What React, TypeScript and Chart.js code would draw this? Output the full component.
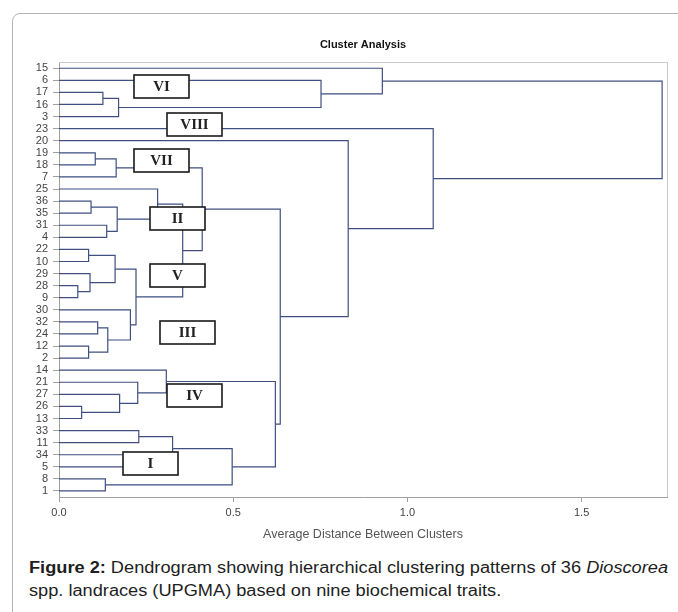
import React, { useEffect, useRef } from 'react';
import { Chart, registerables } from 'chart.js';
Chart.register(...registerables);

// Leaf order, top to bottom
const leafLabels = ['15','6','17','16','3','23','20','19','18','7','25','36','35','31','4','22','10','29','28','9','30','32','24','12','2','14','21','27','26','13','33','11','34','5','8','1'];

// Merges (UPGMA): left child, right child, joining distance. "cK" = result of merge K.
const mergeLeft =  ['17','c0','6','15','19','c4','36','31','c6','25','22','28','29','c10','32','12','c14','30','c13','c9','c5','26','27','21','14','33','34','c25','8','c27','c24','c20','20','23','c3'];
const mergeRight = ['16','3','c1','c2','18','7','35','4','c7','c8','10','9','c11','c12','24','2','c15','c16','c17','c18','c19','13','c21','c22','c23','11','5','c26','1','c28','c29','c30','c31','c32','c33'];
const mergeHeight = [0.126,0.171,0.752,0.928,0.104,0.164,0.092,0.137,0.167,0.283,0.085,0.054,0.089,0.161,0.111,0.085,0.140,0.205,0.221,0.355,0.411,0.065,0.174,0.226,0.308,0.229,0.26,0.326,0.133,0.497,0.621,0.635,0.830,1.074,1.731];

const xTickValues = [0, 0.5, 1.0, 1.5];

// Cluster labels (roman numerals)
const clusterNames = ['VI','VIII','VII','II','V','III','IV','I'];
// label anchor in data units (distance, leaf index)
const clusterAtX = [0.295, 0.389, 0.295, 0.34, 0.34, 0.369, 0.389, 0.264];
const clusterAtY = [1.55, 4.67, 7.61, 12.4, 17.19, 21.89, 27.13, 32.75];

const LINE = '#3e4f80';
const SANS = '"Liberation Sans", Arial, sans-serif';

function buildDatasets() {
  const pos: Record<string, { x: number; y: number }> = {};
  leafLabels.forEach((l, i) => (pos[l] = { x: 0, y: i }));
  const ds: any[] = [];
  mergeLeft.forEach((a, k) => {
    const A = pos[a];
    const B = pos[mergeRight[k]];
    const h = mergeHeight[k];
    ds.push({
      data: [
        { x: A.x, y: A.y },
        { x: h, y: A.y },
        { x: h, y: B.y },
        { x: B.x, y: B.y },
      ],
      showLine: true,
      borderColor: LINE,
      borderWidth: 1.2,
      pointRadius: 0,
      fill: false,
      tension: 0,
    });
    pos['c' + k] = { x: h, y: (A.y + B.y) / 2 };
  });
  return ds;
}

const decorPlugin = {
  id: 'decor',
  beforeDatasetsDraw(chart: any) {
    const { ctx, chartArea } = chart;
    ctx.save();
    ctx.strokeStyle = '#c9c9c9';
    ctx.lineWidth = 1;
    ctx.beginPath();
    ctx.moveTo(chartArea.left, Math.round(chartArea.top) + 0.5);
    ctx.lineTo(Math.round(chartArea.right) + 0.5, Math.round(chartArea.top) + 0.5);
    ctx.lineTo(Math.round(chartArea.right) + 0.5, chartArea.bottom);
    ctx.stroke();
    ctx.restore();
  },
  afterDatasetsDraw(chart: any) {
    const { ctx } = chart;
    const xs = chart.scales.x;
    const ys = chart.scales.y;
    ctx.save();
    clusterNames.forEach((name, i) => {
      const cx = xs.getPixelForValue(clusterAtX[i]);
      const cy = ys.getPixelForValue(clusterAtY[i]);
      const w = 55, h = 23;
      const x0 = Math.round(cx - w / 2), y0 = Math.round(cy - h / 2);
      ctx.fillStyle = '#ffffff';
      ctx.fillRect(x0, y0, w, h);
      ctx.strokeStyle = '#1a1a1a';
      ctx.lineWidth = 1.6;
      ctx.strokeRect(x0, y0, w, h);
      ctx.fillStyle = '#222';
      ctx.font = 'bold 15px "Liberation Serif", "Times New Roman", serif';
      ctx.textAlign = 'center';
      ctx.textBaseline = 'middle';
      ctx.fillText(name, x0 + w / 2, y0 + h / 2 + 1);
    });
    ctx.restore();
  },
};

function DendroChart() {
  const ref = useRef<HTMLCanvasElement>(null);
  useEffect(() => {
    if (!ref.current) return;
    const tickFont = { family: SANS, size: 11 };
    const chart = new Chart(ref.current, {
      type: 'scatter',
      data: { datasets: buildDatasets() },
      options: {
        animation: false,
        responsive: false,
        events: [],
        layout: { padding: { left: 0, right: 11, top: 0, bottom: 3 } },
        plugins: {
          legend: { display: false },
          tooltip: { enabled: false },
          title: {
            display: true,
            text: 'Cluster Analysis',
            color: '#111',
            font: { family: SANS, size: 11, weight: 'bold' },
            padding: { top: 38, bottom: 11 },
            fullSize: false,
          },
        },
        scales: {
          x: {
            type: 'linear',
            min: 0,
            max: 1.745,
            afterBuildTicks: (s: any) => {
              s.ticks = xTickValues.map((v) => ({ value: v }));
            },
            afterFit: (s: any) => {
              s.height = 45;
            },
            ticks: {
              callback: (v: any) => Number(v).toFixed(1),
              color: '#444',
              font: tickFont,
              padding: 4,
              maxRotation: 0,
              autoSkip: false,
            },
            grid: { drawOnChartArea: false, drawTicks: true, tickLength: 5, color: '#a0a0a0' },
            border: { color: '#a0a0a0' },
            title: {
              display: true,
              text: 'Average Distance Between Clusters',
              color: '#555',
              font: { family: SANS, size: 12.5 },
              padding: { top: 0, bottom: 0 },
            },
          },
          y: {
            type: 'linear',
            min: -0.5,
            max: 35.5,
            reverse: true,
            afterBuildTicks: (s: any) => {
              s.ticks = leafLabels.map((_, i) => ({ value: i }));
            },
            afterFit: (s: any) => {
              s.width = 59;
            },
            ticks: {
              callback: (v: any) => leafLabels[v as number],
              color: '#444',
              font: tickFont,
              padding: 5,
              autoSkip: false,
            },
            grid: { drawOnChartArea: false, drawTicks: true, tickLength: 6, color: '#a0a0a0' },
            border: { color: '#a0a0a0' },
          },
        },
      },
      plugins: [decorPlugin],
    } as any);
    return () => chart.destroy();
  }, []);
  return (
    <canvas
      ref={ref}
      width={678}
      height={545}
      style={{ position: 'absolute', left: 0, top: 0, width: 678, height: 545, display: 'block' }}
    />
  );
}

export default function App() {
  return (
    <div
      style={{
        position: 'absolute',
        left: 0,
        top: 0,
        width: 678,
        height: 612,
        overflow: 'hidden',
        background: '#fff',
      }}
    >
      <div
        style={{
          position: 'absolute',
          left: 12,
          top: 13,
          width: 720,
          height: 720,
          border: '1px solid #b4b4b4',
          borderRadius: 8,
          boxSizing: 'border-box',
        }}
      />
      <DendroChart />
      <div
        style={{
          position: 'absolute',
          left: 29,
          top: 556,
          width: 660,
          fontFamily: SANS,
          fontSize: 16,
          lineHeight: '23px',
          color: '#1e1e1e',
          whiteSpace: 'nowrap',
          transform: 'scaleX(1.137)',
          transformOrigin: 'left top',
        }}
      >
        <b>Figure 2:</b> Dendrogram showing hierarchical clustering patterns of 36 <i>Dioscorea</i>
        <br />
        spp. landraces (UPGMA) based on nine biochemical traits.
      </div>
    </div>
  );
}
